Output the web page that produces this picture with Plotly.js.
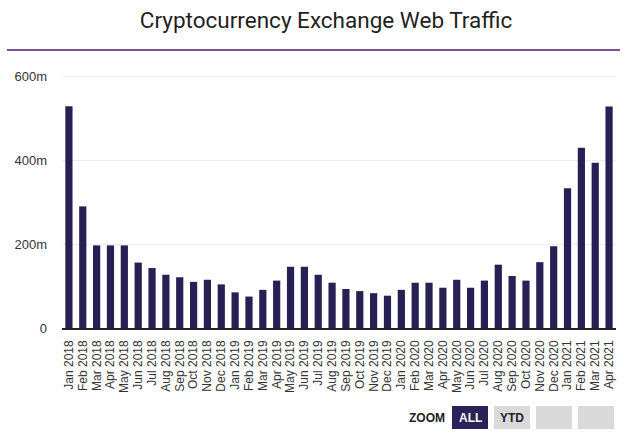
<!DOCTYPE html>
<html><head><meta charset="utf-8">
<script src="https://cdn.plot.ly/plotly-3.0.1.min.js"></script>
<style>html,body{margin:0;padding:0;background:#fff}#chart{width:625px;height:432px}</style>
</head><body><div id="chart"></div>
<script>
const months = ["Jan 2018","Feb 2018","Mar 2018","Apr 2018","May 2018","Jun 2018","Jul 2018","Aug 2018","Sep 2018","Oct 2018","Nov 2018","Dec 2018",
"Jan 2019","Feb 2019","Mar 2019","Apr 2019","May 2019","Jun 2019","Jul 2019","Aug 2019","Sep 2019","Oct 2019","Nov 2019","Dec 2019",
"Jan 2020","Feb 2020","Mar 2020","Apr 2020","May 2020","Jun 2020","Jul 2020","Aug 2020","Sep 2020","Oct 2020","Nov 2020","Dec 2020",
"Jan 2021","Feb 2021","Mar 2021","Apr 2021"];
const visitsMillions = [529,290,197,197,197,156,143,127,121,110,115,104,
85,75,91,113,146,146,127,108,93,88,83,77,
91,108,108,96,115,96,113,151,124,113,157,195,
333,430,394,528];
const yTickVals = [0,200,400,600];
const yTickText = ["0","200m","400m","600m"];

const W=625,H=432, L=62, R=9, T=68, B=104;
const pw=W-L-R, ph=H-T-B;
const px=x=>(x-L)/pw, py=y=>(H-B-y)/ph;

const trace={type:'bar',x:months,y:visitsMillions,marker:{color:'#262055'},hoverinfo:'x+y'};
const shapes=[
 {type:'line',xref:'paper',yref:'paper',x0:px(7),x1:px(620),y0:py(50),y1:py(50),line:{color:'#4f1a78',width:1.3}},
 {type:'rect',xref:'paper',yref:'paper',x0:px(452),x1:px(488),y0:py(406),y1:py(429),fillcolor:'#2a2258',line:{width:0}},
 {type:'rect',xref:'paper',yref:'paper',x0:px(494),x1:px(530),y0:py(406),y1:py(429),fillcolor:'#d9d9d9',line:{width:0}},
 {type:'rect',xref:'paper',yref:'paper',x0:px(536),x1:px(572),y0:py(406),y1:py(429),fillcolor:'#d9d9d9',line:{width:0}},
 {type:'rect',xref:'paper',yref:'paper',x0:px(578),x1:px(614),y0:py(406),y1:py(429),fillcolor:'#d9d9d9',line:{width:0}}
];
const af={family:'Liberation Sans, Arial, sans-serif',size:12,color:'#222'};
const annotations=[
 {xref:'paper',yref:'paper',x:px(427),y:py(418),text:'<b>ZOOM</b>',showarrow:false,font:af,xanchor:'center',yanchor:'middle'},
 {xref:'paper',yref:'paper',x:px(470),y:py(418),text:'<b>ALL</b>',showarrow:false,font:Object.assign({},af,{color:'#fff'}),xanchor:'center',yanchor:'middle'},
 {xref:'paper',yref:'paper',x:px(512),y:py(418),text:'<b>YTD</b>',showarrow:false,font:af,xanchor:'center',yanchor:'middle'}
];
const layout={
 width:W,height:H,margin:{l:L,r:R,t:T,b:B},
 paper_bgcolor:'#fff',plot_bgcolor:'#fff',
 title:{text:'Cryptocurrency Exchange Web Traffic',font:{family:'Roboto, Inter, sans-serif',size:22.5,color:'#1f1f1f'},x:326/W,xref:'container',xanchor:'center',y:1-20/H,yref:'container',yanchor:'middle'},
 bargap:0.48,
 showlegend:false,
 xaxis:{type:'category',tickmode:'array',tickvals:months,ticktext:months,tickangle:-90,tickfont:{family:'Liberation Sans, Arial, sans-serif',size:12,color:'#333'},showgrid:false,showline:true,linecolor:'#222',linewidth:1.5,ticks:'',ticklabelstandoff:6,range:[-0.5,39.5],fixedrange:true},
 yaxis:{range:[0,620],tickvals:yTickVals,ticktext:yTickText,tickfont:{family:'Liberation Sans, Arial, sans-serif',size:13,color:'#333'},gridcolor:'#ececec',gridwidth:1,zeroline:false,showline:false,ticks:'',ticklabelstandoff:14,fixedrange:true},
 shapes:shapes,annotations:annotations
};
Plotly.newPlot('chart',[trace],layout,{displayModeBar:false,staticPlot:true});
</script></body></html>
